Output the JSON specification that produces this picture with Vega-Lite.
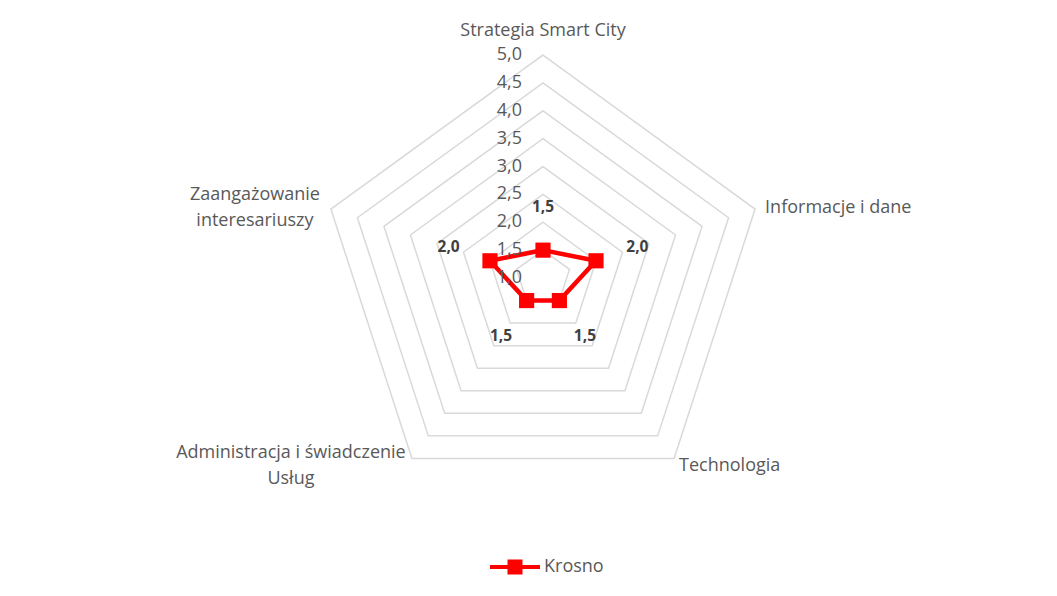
{
  "$schema": "https://vega.github.io/schema/vega-lite/v6.json",
  "width": 1057,
  "height": 596,
  "padding": 0,
  "autosize": {"type": "none"},
  "background": "white",
  "config": {
    "view": {"stroke": null},
    "font": "Open Sans",
    "locale": {"number": {"decimal": ",", "thousands": " ", "grouping": [3], "currency": ["", " zł"]}}
  },
  "datasets": {
    "series": [
      {"city": "Krosno", "category": "Strategia Smart City", "idx": 0, "value": 1.5},
      {"city": "Krosno", "category": "Informacje i dane", "idx": 1, "value": 2.0},
      {"city": "Krosno", "category": "Technologia", "idx": 2, "value": 1.5},
      {"city": "Krosno", "category": "Administracja i świadczenie Usług", "idx": 3, "value": 1.5},
      {"city": "Krosno", "category": "Zaangażowanie interesariuszy", "idx": 4, "value": 2.0}
    ],
    "grid": [
      {"level": 1.5, "idx": [0, 1, 2, 3, 4]},
      {"level": 2.0, "idx": [0, 1, 2, 3, 4]},
      {"level": 2.5, "idx": [0, 1, 2, 3, 4]},
      {"level": 3.0, "idx": [0, 1, 2, 3, 4]},
      {"level": 3.5, "idx": [0, 1, 2, 3, 4]},
      {"level": 4.0, "idx": [0, 1, 2, 3, 4]},
      {"level": 4.5, "idx": [0, 1, 2, 3, 4]},
      {"level": 5.0, "idx": [0, 1, 2, 3, 4]}
    ],
    "ticks": [
      {"t": 1.0}, {"t": 1.5}, {"t": 2.0}, {"t": 2.5}, {"t": 3.0},
      {"t": 3.5}, {"t": 4.0}, {"t": 4.5}, {"t": 5.0}
    ],
    "cats": [
      {"idx": 0, "label": "Strategia Smart City"},
      {"idx": 1, "label": "Informacje i dane"},
      {"idx": 2, "label": "Technologia"},
      {"idx": 3, "label": "Administracja i świadczenie\nUsług"},
      {"idx": 4, "label": "Zaangażowanie\ninteresariuszy"}
    ]
  },
  "encoding": {
    "x": {"field": "x", "type": "quantitative", "scale": {"domain": [-9.740, 9.220], "nice": false, "zero": false}, "axis": null},
    "y": {"field": "y", "type": "quantitative", "scale": {"domain": [-5.704, 4.987], "nice": false, "zero": false}, "axis": null}
  },
  "layer": [
    {
      "data": {"name": "grid"},
      "transform": [
        {"flatten": ["idx"]},
        {"calculate": "datum.level - 1", "as": "r"},
        {"calculate": "datum.r * sin(datum.idx * 2 * PI / 5)", "as": "x"},
        {"calculate": "datum.r * cos(datum.idx * 2 * PI / 5)", "as": "y"}
      ],
      "mark": {"type": "line", "interpolate": "linear-closed", "stroke": "#D9D9D9", "strokeWidth": 1.5},
      "encoding": {
        "detail": {"field": "level", "type": "nominal"},
        "order": {"field": "idx", "type": "quantitative"}
      }
    },
    {
      "data": {"name": "series"},
      "transform": [
        {"calculate": "datum.value - 1", "as": "r"},
        {"calculate": "datum.r * sin(datum.idx * 2 * PI / 5)", "as": "x"},
        {"calculate": "datum.r * cos(datum.idx * 2 * PI / 5)", "as": "y"}
      ],
      "mark": {"type": "line", "interpolate": "linear-closed", "stroke": "#FF0000", "strokeWidth": 4.5},
      "encoding": {
        "order": {"field": "idx", "type": "quantitative"}
      }
    },
    {
      "data": {"name": "series"},
      "transform": [
        {"calculate": "datum.value - 1", "as": "r"},
        {"calculate": "datum.r * sin(datum.idx * 2 * PI / 5)", "as": "x"},
        {"calculate": "datum.r * cos(datum.idx * 2 * PI / 5)", "as": "y"}
      ],
      "mark": {"type": "point", "shape": "square", "filled": true, "size": 230, "opacity": 1},
      "encoding": {
        "color": {
          "field": "city", "type": "nominal",
          "scale": {"range": ["#FF0000"]},
          "legend": {
            "title": null,
            "orient": "none",
            "legendX": 488,
            "legendY": 540,
            "padding": 0,
            "symbolType": "M-1,0H1M-0.22,-0.22H0.22V0.22H-0.22Z",
            "symbolSize": 2500,
            "symbolStrokeWidth": 4,
            "symbolStrokeColor": "#FF0000",
            "symbolFillColor": "#FF0000",
            "labelFont": "Open Sans",
            "labelFontSize": 18,
            "labelColor": "#595959",
            "labelOffset": 2,
            "encode": {"symbols": {
              "enter": {"stroke": {"value": "#FF0000"}, "fill": {"value": "#FF0000"}, "strokeWidth": {"value": 4}, "strokeOpacity": {"value": 1}},
              "update": {"stroke": {"value": "#FF0000"}, "fill": {"value": "#FF0000"}, "strokeWidth": {"value": 4}, "strokeOpacity": {"value": 1}}
            }}
          }
        }
      }
    },
    {
      "data": {"name": "series"},
      "transform": [
        {"calculate": "datum.value - 1 + 0.78", "as": "r"},
        {"calculate": "datum.r * sin(datum.idx * 2 * PI / 5)", "as": "x"},
        {"calculate": "datum.r * cos(datum.idx * 2 * PI / 5)", "as": "y"}
      ],
      "mark": {"type": "text", "font": "Open Sans", "fontSize": 15.5, "fontWeight": "bold", "color": "#404040", "align": "center", "baseline": "middle"},
      "encoding": {
        "text": {"field": "value", "type": "quantitative", "format": ".1f"}
      }
    },
    {
      "data": {"name": "ticks"},
      "transform": [
        {"calculate": "0", "as": "x"},
        {"calculate": "datum.t - 1", "as": "y"}
      ],
      "mark": {"type": "text", "font": "Open Sans", "fontSize": 18, "color": "#595959", "align": "right", "baseline": "middle", "dx": -21},
      "encoding": {
        "text": {"field": "t", "type": "quantitative", "format": ".1f"}
      }
    },
    {
      "data": {"name": "cats"},
      "transform": [
        {"filter": "datum.idx == 0"},
        {"calculate": "4 * sin(datum.idx * 2 * PI / 5)", "as": "x"},
        {"calculate": "4 * cos(datum.idx * 2 * PI / 5)", "as": "y"}
      ],
      "mark": {"type": "text", "font": "Open Sans", "fontSize": 18, "color": "#595959", "align": "center", "baseline": "middle", "dy": -24},
      "encoding": {"text": {"field": "label", "type": "nominal"}}
    },
    {
      "data": {"name": "cats"},
      "transform": [
        {"filter": "datum.idx == 1"},
        {"calculate": "4 * sin(datum.idx * 2 * PI / 5)", "as": "x"},
        {"calculate": "4 * cos(datum.idx * 2 * PI / 5)", "as": "y"}
      ],
      "mark": {"type": "text", "font": "Open Sans", "fontSize": 18, "color": "#595959", "align": "left", "baseline": "middle", "dx": 10, "dy": -1},
      "encoding": {"text": {"field": "label", "type": "nominal"}}
    },
    {
      "data": {"name": "cats"},
      "transform": [
        {"filter": "datum.idx == 2"},
        {"calculate": "4 * sin(datum.idx * 2 * PI / 5)", "as": "x"},
        {"calculate": "4 * cos(datum.idx * 2 * PI / 5)", "as": "y"}
      ],
      "mark": {"type": "text", "font": "Open Sans", "fontSize": 18, "color": "#595959", "align": "left", "baseline": "middle", "dx": 5, "dy": 8},
      "encoding": {"text": {"field": "label", "type": "nominal"}}
    },
    {
      "data": {"name": "cats"},
      "transform": [
        {"filter": "datum.idx == 3"},
        {"calculate": "4 * sin(datum.idx * 2 * PI / 5)", "as": "x"},
        {"calculate": "4 * cos(datum.idx * 2 * PI / 5)", "as": "y"}
      ],
      "mark": {"type": "text", "font": "Open Sans", "fontSize": 18, "color": "#595959", "align": "center", "baseline": "middle", "lineBreak": "\n", "lineHeight": 26, "dx": -121, "dy": -5},
      "encoding": {"text": {"field": "label", "type": "nominal"}}
    },
    {
      "data": {"name": "cats"},
      "transform": [
        {"filter": "datum.idx == 4"},
        {"calculate": "4 * sin(datum.idx * 2 * PI / 5)", "as": "x"},
        {"calculate": "4 * cos(datum.idx * 2 * PI / 5)", "as": "y"}
      ],
      "mark": {"type": "text", "font": "Open Sans", "fontSize": 18, "color": "#595959", "align": "center", "baseline": "middle", "lineBreak": "\n", "lineHeight": 26, "dx": -76, "dy": -14},
      "encoding": {"text": {"field": "label", "type": "nominal"}}
    }
  ]
}
